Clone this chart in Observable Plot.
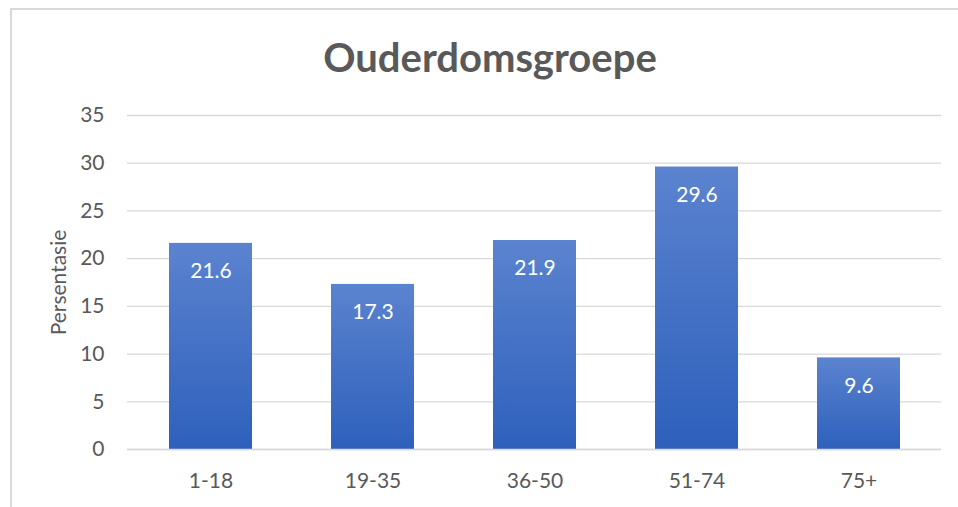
<!DOCTYPE html>
<html>
<head>
<meta charset="utf-8">
<script src="https://cdn.jsdelivr.net/npm/d3@7"></script>
<script src="https://cdn.jsdelivr.net/npm/@observablehq/plot@0.6"></script>
<style>
  html, body { margin: 0; padding: 0; background: #fff; }
  #wrap { position: relative; width: 958px; height: 507px; overflow: hidden; font-family: Lato, "Open Sans", sans-serif; }
  #frame { position: absolute; left: 10px; top: 8px; width: 960px; height: 520px; border-left: 2px solid #d9d9d9; border-top: 2px solid #d9d9d9; box-sizing: border-box; }
  #title { position: absolute; left: 0; top: 33px; width: 980px; text-align: center; font-size: 40px; line-height: 48px; font-weight: bold; color: #595959; }
  #chart { position: absolute; left: 0; top: 90px; }
</style>
</head>
<body>
<div id="wrap">
  <div id="frame"></div>
  <div id="title">Ouderdomsgroepe</div>
  <div id="chart"></div>
</div>
<script>
const categories = ["1-18", "19-35", "36-50", "51-74", "75+"];
const values = [21.6, 17.3, 21.9, 29.6, 9.6];
const yTicks = [0, 5, 10, 15, 20, 25, 30, 35];
const yLabel = "Persentasie";

const data = categories.map((c, i) => ({category: c, value: values[i]}));

const chart = Plot.plot({
  width: 958,
  height: 417,
  marginTop: 25,
  marginBottom: 58,
  marginLeft: 127,
  marginRight: 17,
  style: {fontFamily: "Lato, 'Open Sans', sans-serif", fontSize: "21px", color: "#595959", background: "transparent"},
  x: {domain: categories, paddingInner: 0.49, paddingOuter: 0.245, label: null},
  y: {domain: [0, 35], label: null},
  marks: [
    Plot.gridY(yTicks, {stroke: "#d9d9d9", strokeOpacity: 1, strokeWidth: 1.3}),
    Plot.axisY(yTicks, {tickSize: 0, tickPadding: 23, label: null, fill: "#595959"}),
    Plot.axisX({tickSize: 0, tickPadding: 24, label: null, fill: "#595959"}),
    Plot.barY(data, {x: "category", y: "value", fill: "url(#barGrad)", style: {filter: "drop-shadow(0px 0px 2px rgba(0,0,0,0.3))"}}),
    Plot.ruleY([0], {stroke: "#d9d9d9", strokeWidth: 1.5}),
    Plot.text(data, {x: "category", y: "value", text: d => d.value.toFixed(1), fill: "white", dy: 28, fontSize: 21}),
    Plot.text([yLabel], {frameAnchor: "left", dx: -68, text: d => d, rotate: -90, textAnchor: "middle", fontSize: 21, fill: "#595959"})
  ]
});

const svg = d3.select(chart);
const defs = svg.insert("defs", ":first-child");
const grad = defs.append("linearGradient").attr("id", "barGrad").attr("x1", 0).attr("y1", 0).attr("x2", 0).attr("y2", 1);
grad.append("stop").attr("offset", "0%").attr("stop-color", "#5b83cf");
grad.append("stop").attr("offset", "100%").attr("stop-color", "#2e60bc");

document.getElementById("chart").appendChild(chart);
</script>
</body>
</html>
